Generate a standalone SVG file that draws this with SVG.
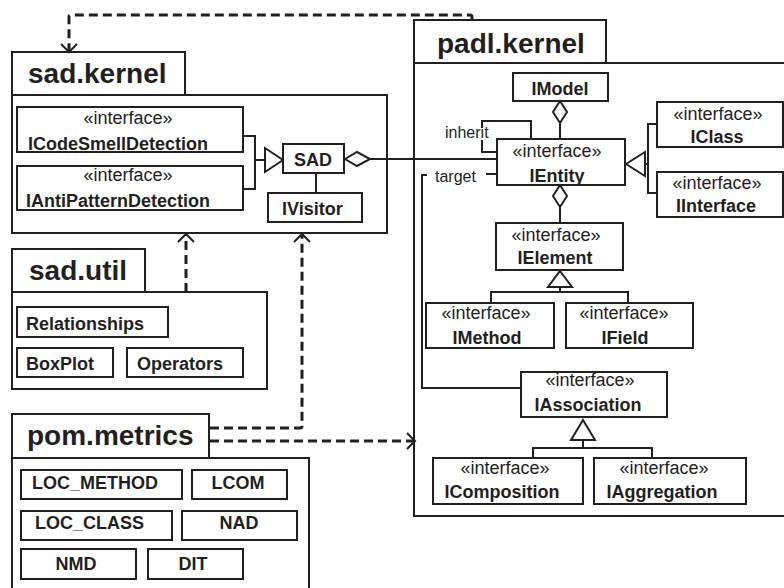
<svg xmlns="http://www.w3.org/2000/svg" width="784" height="588" viewBox="0 0 784 588">
<style>
text{font-family:"Liberation Sans",Arial,sans-serif;fill:#231f20}
.pk{font-size:28px;font-weight:bold}
.b{font-size:18px;font-weight:bold}
.s{font-size:18px}
.l{font-size:16px}
.m{text-anchor:middle}
.box{fill:#fff;stroke:#231f20;stroke-width:2}
.ln{fill:none;stroke:#231f20;stroke-width:2}
.dash{fill:none;stroke:#231f20;stroke-width:3;stroke-dasharray:9 5}
.arr{fill:none;stroke:#231f20;stroke-width:2}
.tri{fill:#fff;stroke:#231f20;stroke-width:2}
</style>
<rect width="784" height="588" fill="#fff"/>

<g id="sad.kernel">
<rect class="box" x="12" y="52" width="173" height="43"/>
<rect class="box" x="12" y="95" width="375" height="138"/>
<text class="pk" x="28" y="83">sad.kernel</text>
</g>
<g id="ICodeSmellDetection">
<rect class="box" x="17" y="107" width="226" height="45"/>
<text class="s m" x="128" y="124">«interface»</text>
<text class="b" x="28" y="150">ICodeSmellDetection</text>
</g>
<g id="IAntiPatternDetection">
<rect class="box" x="17" y="166" width="226" height="44"/>
<text class="s m" x="128" y="181">«interface»</text>
<text class="b" x="26" y="207">IAntiPatternDetection</text>
</g>
<g id="SAD">
<rect class="box" x="283" y="144" width="61" height="29"/>
<text class="b" x="294" y="166">SAD</text>
</g>
<g id="IVisitor">
<rect class="box" x="268" y="193" width="94" height="29"/>
<text class="b" x="282" y="215">IVisitor</text>
</g>

<g id="sad.util">
<rect class="box" x="12" y="249" width="133" height="43"/>
<rect class="box" x="12" y="292" width="255" height="97"/>
<text class="pk" x="29" y="280">sad.util</text>
</g>
<g id="Relationships">
<rect class="box" x="17" y="307" width="151" height="30"/>
<text class="b" x="26" y="330">Relationships</text>
</g>
<g id="BoxPlot">
<rect class="box" x="17" y="348" width="96" height="29"/>
<text class="b" x="26" y="370">BoxPlot</text>
</g>
<g id="Operators">
<rect class="box" x="127" y="348" width="116" height="29"/>
<text class="b" x="137" y="370">Operators</text>
</g>

<g id="pom.metrics">
<rect class="box" x="12" y="414" width="197" height="44"/>
<rect class="box" x="12" y="458" width="297" height="140"/>
<text class="pk" x="27" y="445">pom.metrics</text>
</g>
<g id="LOC_METHOD">
<rect class="box" x="21" y="470" width="161" height="29"/>
<text class="b" x="32" y="489">LOC_METHOD</text>
</g>
<g id="LCOM">
<rect class="box" x="192" y="470" width="95" height="29"/>
<text class="b m" x="238" y="489">LCOM</text>
</g>
<g id="LOC_CLASS">
<rect class="box" x="21" y="511" width="151" height="29"/>
<text class="b" x="35" y="529">LOC_CLASS</text>
</g>
<g id="NAD">
<rect class="box" x="182" y="511" width="115" height="29"/>
<text class="b m" x="239" y="529">NAD</text>
</g>
<g id="NMD">
<rect class="box" x="21" y="549" width="115" height="30"/>
<text class="b m" x="76" y="570">NMD</text>
</g>
<g id="DIT">
<rect class="box" x="148" y="549" width="95" height="30"/>
<text class="b m" x="193" y="570">DIT</text>
</g>

<g id="padl.kernel">
<rect class="box" x="414" y="20" width="192" height="43"/>
<rect class="box" x="414" y="63" width="380" height="453"/>
<text class="pk" x="437" y="53">padl.kernel</text>
</g>
<g id="IModel">
<rect class="box" x="513" y="73" width="95" height="28"/>
<text class="b m" x="560" y="95">IModel</text>
</g>
<g id="IEntity">
<rect class="box" x="497" y="139" width="128" height="46"/>
<text class="s m" x="557" y="157">«interface»</text>
<text class="b m" x="557" y="182">IEntity</text>
</g>
<g id="IClass">
<rect class="box" x="657" y="102" width="126" height="45"/>
<text class="s m" x="718" y="120">«interface»</text>
<text class="b m" x="717" y="143">IClass</text>
</g>
<g id="IInterface">
<rect class="box" x="657" y="172" width="126" height="45"/>
<text class="s m" x="717" y="189">«interface»</text>
<text class="b m" x="716" y="212">IInterface</text>
</g>
<g id="IElement">
<rect class="box" x="496" y="223" width="127" height="47"/>
<text class="s m" x="556" y="241">«interface»</text>
<text class="b m" x="555" y="264">IElement</text>
</g>
<g id="IMethod">
<rect class="box" x="426" y="303" width="128" height="45"/>
<text class="s m" x="486" y="319">«interface»</text>
<text class="b m" x="487" y="344">IMethod</text>
</g>
<g id="IField">
<rect class="box" x="566" y="303" width="127" height="45"/>
<text class="s m" x="624" y="319">«interface»</text>
<text class="b m" x="625" y="344">IField</text>
</g>
<g id="IAssociation">
<rect class="box" x="521" y="372" width="146" height="45"/>
<text class="s m" x="590" y="386">«interface»</text>
<text class="b m" x="588" y="411">IAssociation</text>
</g>
<g id="IComposition">
<rect class="box" x="433" y="458" width="150" height="46"/>
<text class="s m" x="505" y="474">«interface»</text>
<text class="b m" x="502" y="498">IComposition</text>
</g>
<g id="IAggregation">
<rect class="box" x="594" y="458" width="152" height="46"/>
<text class="s m" x="664" y="474">«interface»</text>
<text class="b m" x="662" y="498">IAggregation</text>
</g>

<g id="connectors">
<!-- sad.kernel internals -->
<polyline class="ln" points="243,136 255,136 255,189 243,189"/>
<line class="ln" x1="255" y1="160" x2="265" y2="160"/>
<polygon class="tri" points="265,148 283,160 265,172"/>
<line class="ln" x1="316" y1="173" x2="316" y2="193"/>
<polygon class="tri" points="345,159 357,152 370,159 357,166"/>
<line class="ln" x1="370" y1="159" x2="497" y2="159"/>
<!-- padl.kernel internals -->
<polygon class="tri" points="560,101 567,112 560,123 553,112"/>
<line class="ln" x1="560" y1="123" x2="560" y2="139"/>
<polyline class="ln" points="531,139 531,121 482,121 482,152 497,152"/>
<rect x="477" y="128" width="13" height="12" fill="#fff"/>
<text class="l" x="445" y="138">inherit</text>
<text class="l" x="435" y="182">target</text>
<line class="ln" x1="486" y1="174" x2="497" y2="174"/>
<polyline class="ln" points="427,175 422,175 422,388 521,388"/>
<polygon class="tri" points="626,164 645,152 645,176"/>
<line class="ln" x1="645" y1="164" x2="648" y2="164"/>
<polyline class="ln" points="657,124 648,124 648,193 657,193"/>
<polygon class="tri" points="560,185 567,196 560,207 553,196"/>
<line class="ln" x1="560" y1="207" x2="560" y2="223"/>
<polygon class="tri" points="560,271 572,287 548,287"/>
<line class="ln" x1="560" y1="287" x2="560" y2="292"/>
<polyline class="ln" points="491,303 491,292 628,292 628,303"/>
<polygon class="tri" points="583,420 595,440 571,440"/>
<line class="ln" x1="583" y1="440" x2="583" y2="448"/>
<polyline class="ln" points="533,458 533,448 652,448 652,458"/>
<!-- package dependencies -->
<path class="dash" d="M472,20 V17 Q472,15 470,15 H71 Q69,15 69,17 V51"/>
<polyline class="arr" points="61,44 69,52 77,44"/>
<line class="dash" x1="186" y1="292" x2="186" y2="235"/>
<polyline class="arr" points="178,242 186,234 194,242"/>
<path class="dash" d="M210,428 H300 Q302,428 302,426 V235"/>
<polyline class="arr" points="294,242 302,234 310,242"/>
<line class="dash" x1="210" y1="441" x2="413" y2="441"/>
<polyline class="arr" points="407,433 415,441 407,449"/>
</g>
</svg>
